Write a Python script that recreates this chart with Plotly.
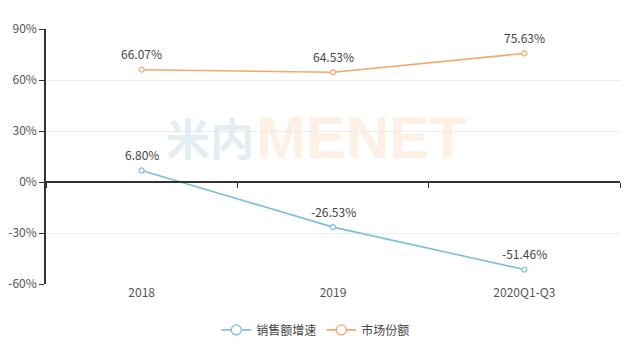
import plotly.graph_objects as go

categories = ["2018", "2019", "2020Q1-Q3"]
sales_growth = [6.80, -26.53, -51.46]
market_share = [66.07, 64.53, 75.63]
series_names = ["销售额增速", "市场份额"]
y_ticks = [-60, -30, 0, 30, 60, 90]

blue = "#7cc0dc"
orange = "#f2a96a"
font_family = "Noto Sans CJK SC, Open Sans, sans-serif"

fig = go.Figure()
for name, vals, col in [(series_names[0], sales_growth, blue), (series_names[1], market_share, orange)]:
    fig.add_trace(go.Scatter(
        x=categories, y=vals, name=name, mode="lines+markers",
        line=dict(color=col, width=1.6),
        marker=dict(symbol="circle", size=5, color="white", line=dict(color=col, width=1.2)),
        showlegend=False, cliponaxis=False,
    ))
    for i, v in enumerate(vals):
        fig.add_annotation(x=i, y=v, text=f"{v:.2f}%", showarrow=False, yshift=16,
                           font=dict(size=12, color="#444", family=font_family))
    # legend entry with larger marker
    fig.add_trace(go.Scatter(
        x=[None], y=[None], name=name, mode="lines+markers",
        line=dict(color=col, width=1.6),
        marker=dict(symbol="circle", size=10, color="white", line=dict(color=col, width=1.3)),
    ))

fig.update_layout(
    width=640, height=352,
    margin=dict(l=46, r=20, t=29, b=68, autoexpand=False),
    paper_bgcolor="white", plot_bgcolor="white",
    font=dict(family=font_family, size=12, color="#555"),
    showlegend=True,
    legend=dict(orientation="h", x=0.47, xanchor="center", y=-0.18, yanchor="middle",
                font=dict(size=12, color="#444"), itemwidth=30),
    xaxis=dict(type="category", range=[-0.5, 2.5], showline=False, showgrid=False, automargin=False,
               zeroline=False, ticks="", tickfont=dict(size=12, color="#555")),
    xaxis2=dict(overlaying="x", anchor="free", position=0.4, range=[-0.5, 2.5], automargin=False,
                showline=True, linecolor="#333", linewidth=1.5,
                tickmode="array", tickvals=[-0.5, 0.5, 1.5, 2.5], ticks="outside",
                ticklen=5, tickcolor="#333", showticklabels=False, showgrid=False, zeroline=False),
    yaxis=dict(range=[-60, 90], tickvals=y_ticks, ticktext=[f"{v}%" for v in y_ticks], automargin=False,
               showline=True, linecolor="#333", linewidth=1.5, ticks="outside", ticklen=5,
               tickcolor="#333", showgrid=True, gridcolor="#eeeeee", zeroline=False,
               tickfont=dict(size=12, color="#555")),
)
# invisible trace to activate xaxis2
fig.add_trace(go.Scatter(x=[-0.5, 2.5], y=[0, 0], xaxis="x2", mode="lines",
                         line=dict(width=0), showlegend=False, hoverinfo="skip"))

# watermark
fig.add_annotation(text="<b>米内</b>", xref="paper", yref="paper", x=0.205, y=0.575,
                   xanchor="left", yanchor="middle", showarrow=False,
                   font=dict(size=44, color="rgba(200,222,230,0.5)", family=font_family))
fig.add_annotation(text="<b>MENET</b>", xref="paper", yref="paper", x=0.362, y=0.575,
                   xanchor="left", yanchor="middle", showarrow=False,
                   font=dict(size=60, color="rgba(252,226,204,0.5)",
                             family="Liberation Sans, sans-serif"))

fig.write_html("out.html")
